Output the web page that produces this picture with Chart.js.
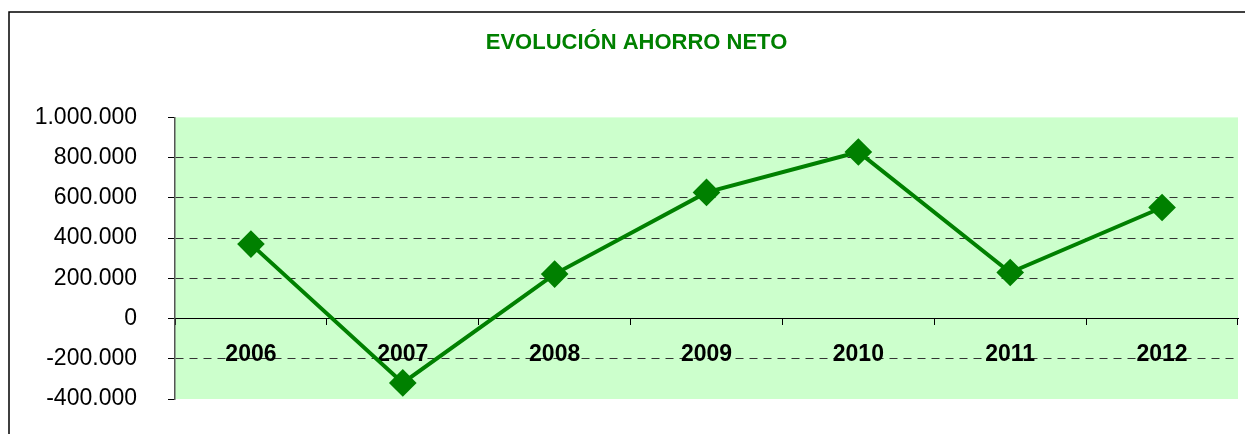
<!DOCTYPE html>
<html>
<head>
<meta charset="utf-8">
<script src="https://cdn.jsdelivr.net/npm/chart.js@4"></script>
<style>
  html, body { margin: 0; padding: 0; background: #fff; }
  #wrap { position: relative; width: 1245px; height: 434px; }
</style>
</head>
<body>
<div id="wrap"><canvas id="c" width="1245" height="434"></canvas></div>
<script>
const years = ['2006', '2007', '2008', '2009', '2010', '2011', '2012'];
const ahorroNeto = [370000, -320000, 221000, 627000, 828000, 229000, 552000];
const yMin = -400000;
const yMax = 1000000;
const yStep = 200000;
const titleText = 'EVOLUCIÓN AHORRO NETO';

function fmt(v) {
  const neg = v < 0;
  const s = String(Math.abs(Math.round(v))).replace(/\B(?=(\d{3})+(?!\d))/g, '.');
  return (neg ? '-' : '') + s;
}

const bgPlugin = {
  id: 'bgPlugin',
  beforeDraw(chart) {
    const { ctx, chartArea: a } = chart;
    ctx.save();
    ctx.strokeStyle = '#000';
    ctx.lineWidth = 1.5;
    ctx.beginPath();
    ctx.moveTo(9, 440);
    ctx.lineTo(9, 12);
    ctx.lineTo(1250, 12);
    ctx.stroke();
    ctx.fillStyle = '#CCFFCC';
    ctx.fillRect(a.left, a.top, a.right - a.left, a.bottom - a.top);
    ctx.restore();
  }
};

new Chart(document.getElementById('c'), {
  type: 'line',
  data: {
    labels: years,
    datasets: [{
      data: ahorroNeto,
      borderColor: '#008000',
      backgroundColor: '#008000',
      borderWidth: 4,
      pointStyle: 'rectRot',
      pointRadius: 11,
      pointHoverRadius: 11,
      pointBackgroundColor: '#008000',
      pointBorderColor: '#008000',
      tension: 0,
      fill: false,
      clip: false
    }]
  },
  options: {
    responsive: false,
    animation: false,
    events: [],
    layout: { autoPadding: false, padding: { left: 35, right: 7, top: 0, bottom: 35 } },
    plugins: {
      legend: { display: false },
      tooltip: { enabled: false },
      title: {
        display: true,
        text: titleText,
        color: '#008000',
        font: { family: '"Liberation Sans", Arial, sans-serif', size: 22, weight: 'bold' },
        padding: { top: 30, bottom: 61 }
      }
    },
    scales: {
      x: {
        type: 'category',
        position: { y: 0 },
        offset: true,
        afterFit(scale) {
          scale.height = 1;
          scale.paddingLeft = 0;
          scale.paddingRight = 0;
        },
        grid: {
          offset: true,
          drawOnChartArea: false,
          drawTicks: true,
          tickLength: 6,
          tickColor: '#000'
        },
        border: { display: true, color: '#000', width: 1 },
        ticks: {
          color: '#000',
          padding: 16,
          maxRotation: 0,
          font: { family: '"Liberation Sans", Arial, sans-serif', size: 23, weight: 'bold' }
        }
      },
      y: {
        min: yMin,
        max: yMax,
        afterFit(scale) {
          scale.width = 140;
          scale.paddingTop = 0;
          scale.paddingBottom = 0;
        },
        grid: {
          color: (ctx) => {
            const v = ctx.tick ? ctx.tick.value : null;
            return (v === 0 || v === yMin || v === yMax) ? 'rgba(0,0,0,0)' : '#333';
          },
          tickColor: '#000',
          tickLength: 7,
          lineWidth: 1,
          drawTicks: true
        },
        border: { display: true, color: '#555', width: 1.5, dash: [8, 6] },
        ticks: {
          stepSize: yStep,
          color: '#000',
          padding: 31,
          font: { family: '"Liberation Sans", Arial, sans-serif', size: 23 },
          callback: (v) => fmt(v)
        }
      }
    }
  },
  plugins: [bgPlugin]
});
</script>
</body>
</html>
